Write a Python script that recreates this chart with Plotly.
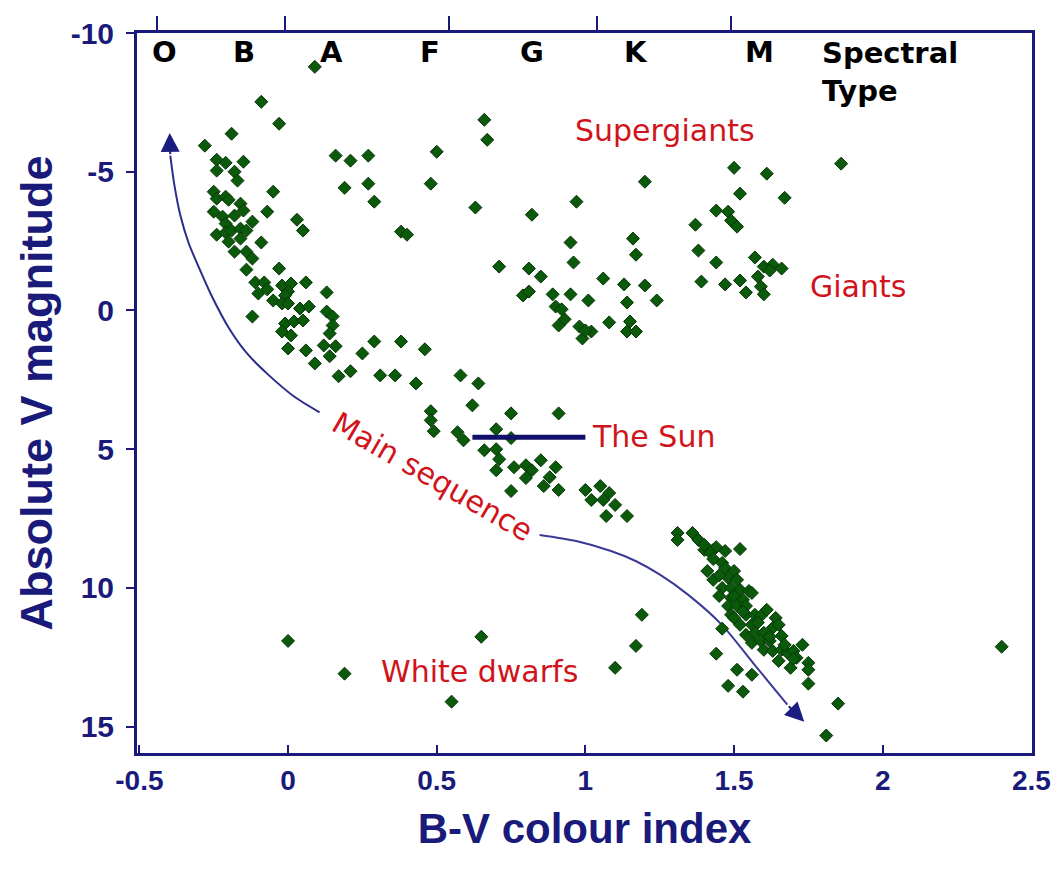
import plotly.graph_objects as go

# ---- star data: B-V colour index and absolute V magnitude ----
supergiants_bv = [0.09, -0.09, -0.03, 0.16, 0.21, 0.27, 0.19, 0.27, 0.29, 0.50, 0.48,
                  0.66, 0.67, 0.63, 0.38, 0.40, 1.86, 1.50, 1.61, 1.52, 1.67]
supergiants_mv = [-8.78, -7.52, -6.73, -5.58, -5.40, -5.58, -4.42, -4.57, -3.92, -5.72, -4.57,
                  -6.87, -6.15, -3.71, -2.84, -2.73, -5.29, -5.14, -4.93, -4.21, -4.06]

upper_ms_bv = [-0.19, -0.28, -0.24, -0.21, -0.15, -0.24, -0.18, -0.17,
               -0.05, -0.07, 0.03, 0.05,
               -0.25, -0.24, -0.21, -0.20, -0.16, -0.15, -0.25, -0.22, -0.18, -0.12, -0.21, -0.24,
               -0.21, -0.19, -0.16, -0.14, -0.20, -0.16, -0.18, -0.09, -0.14, -0.12, -0.14, -0.03,
               -0.11, -0.08, -0.10, -0.07, -0.02, 0.01, 0.06, 0.00, -0.01, -0.05, -0.02, 0.00,
               0.13, 0.04, 0.07, -0.12, -0.01, 0.02, 0.05, 0.13, 0.15, 0.15, -0.02, 0.01, 0.14,
               0.00, 0.06, 0.09, 0.12, 0.16, 0.14, 0.29, 0.38, 0.25, 0.46, 0.21, 0.17, 0.31,
               0.36, 0.43, 0.58, 0.64, 0.62, 0.48, 0.48, 0.49, 0.57, 0.59, 0.75, 0.91, 0.70,
               0.75, 0.66, 0.70, 0.71, 0.70, 0.76, 0.80, 0.82, 0.85, 0.80, 0.90, 0.88, 0.86,
               0.91, 0.75, 1.00, 1.05, 1.08, 1.02, 1.06, 1.10, 1.07, 1.14]
upper_ms_mv = [-6.37, -5.94, -5.43, -5.32, -5.36, -5.04, -5.00, -4.68,
               -4.28, -3.56, -3.27, -2.88,
               -4.28, -4.03, -4.10, -3.99, -3.85, -3.60, -3.56, -3.38, -3.42, -3.20, -3.13, -2.73,
               -2.81, -2.88, -2.95, -2.88, -2.48, -2.59, -2.12, -2.45, -2.12, -1.87, -1.47, -1.51,
               -1.01, -1.01, -0.61, -0.76, -0.90, -0.97, -1.01, -0.68, -0.54, -0.36, -0.25, -0.25,
               -0.65, -0.07, -0.14, 0.22, 0.47, 0.40, 0.36, 0.04, 0.22, 0.54, 0.76, 0.90, 0.83,
               1.37, 1.44, 1.91, 1.26, 1.29, 1.65, 1.12, 1.12, 1.55, 1.40, 2.19, 2.37, 2.34,
               2.34, 2.63, 2.34, 2.63, 3.42, 3.63, 3.96, 4.35, 4.39, 4.68, 3.71, 3.71, 4.28,
               4.60, 5.04, 5.00, 5.36, 5.76, 5.65, 5.58, 5.76, 5.40, 6.04, 5.65, 6.01, 6.33,
               6.47, 6.51, 6.47, 6.33, 6.58, 6.83, 6.83, 7.01, 7.41, 7.41]

giants_bv = [0.71, 0.81, 0.85, 0.79, 0.81, 0.89, 0.95, 0.82, 0.97, 0.95, 0.96, 1.20, 1.16,
             1.17, 1.06, 1.13, 1.20, 1.01, 1.14, 1.24, 0.90, 0.92, 0.93, 0.91, 0.98, 0.99,
             1.02, 1.00, 1.08, 1.15, 1.14, 1.17,
             1.44, 1.48, 1.49, 1.51, 1.37, 1.38, 1.44, 1.57, 1.60, 1.63, 1.66, 1.62, 1.58,
             1.59, 1.60, 1.39, 1.47, 1.52, 1.54]
giants_mv = [-1.58, -1.51, -1.22, -0.54, -0.68, -0.58, -0.58, -3.45, -3.92, -2.45, -1.73, -4.64, -2.59,
             -2.01, -1.15, -0.94, -0.90, -0.36, -0.29, -0.36, -0.14, -0.04, 0.32, 0.54, 0.58, 1.01,
             0.76, 0.72, 0.43, 0.40, 0.76, 0.76,
             -3.60, -3.56, -3.24, -3.02, -3.09, -2.16, -1.73, -1.91, -1.58, -1.65, -1.51, -1.44, -1.22,
             -0.86, -0.58, -1.04, -0.94, -1.08, -0.65]

lower_ms_bv = [1.31, 1.31, 1.36, 1.38, 1.40, 1.43, 1.44, 1.42, 1.47, 1.52, 1.43, 1.46, 1.41,
               1.43, 1.47, 1.50, 1.48, 1.51, 1.46, 1.49, 1.52, 1.55, 1.56, 1.45, 1.49, 1.50,
               1.53, 1.48, 1.51, 1.54, 1.49, 1.50, 1.54, 1.57, 1.59, 1.52, 1.56, 1.61, 1.64,
               1.54, 1.57, 1.60, 1.63, 1.65, 1.56, 1.59, 1.62, 1.60, 1.63, 1.66, 1.68, 1.66,
               1.65, 1.69, 1.70, 1.73, 1.71, 1.75, 1.75, 1.75, 1.46, 1.44, 1.51, 1.56, 1.48,
               1.53, 1.81, 1.85, 1.19, 1.17, 1.10, 2.40,
               1.40, 1.45, 1.53, 1.58, 1.62, 1.67, 1.70]
lower_ms_mv = [8.02, 8.27, 8.02, 8.27, 8.63, 8.63, 8.53, 8.74, 8.67, 8.60, 8.96, 9.10, 9.39,
               9.71, 9.28, 9.39, 9.64, 9.71, 10.00, 10.00, 10.07, 10.11, 10.18, 10.29, 10.36, 10.29,
               10.43, 10.65, 10.65, 10.65, 10.97, 11.08, 10.97, 10.97, 11.01, 11.33, 11.33, 10.79, 11.08,
               11.69, 11.62, 11.62, 11.44, 11.33, 11.98, 11.91, 11.91, 12.23, 12.27, 12.23, 12.34, 11.73,
               12.63, 12.88, 12.27, 12.05, 12.52, 12.70, 12.95, 13.45, 11.47, 12.37, 12.95, 13.13, 13.53,
               13.74, 15.32, 14.17, 10.97, 12.09, 12.88, 12.12,
               8.45, 9.55, 10.85, 11.25, 11.75, 12.05, 12.55]

white_dwarfs_bv = [0.00, 0.19, 0.65, 0.55]
white_dwarfs_mv = [11.91, 13.09, 11.76, 14.10]

# ---- axis ticks and spectral classes ----
x_ticks = [-0.5, 0, 0.5, 1, 1.5, 2, 2.5]
x_tick_text = ["-0.5", "0", "0.5", "1", "1.5", "2", "2.5"]
y_ticks = [-10, -5, 0, 5, 10, 15]
y_tick_text = ["-10", "-5", "0", "5", "10", "15"]
class_edges = [-0.44, -0.01, 0.54, 1.04, 1.49]
class_names = ["O", "B", "A", "F", "G", "K", "M"]
class_centres = [-0.415, -0.148, 0.146, 0.479, 0.819, 1.169, 1.586]

# guide arrows along the main sequence (B-V, Mv)
ms_upper_path_bv = [0.106, 0.019, -0.064, -0.138, -0.198, -0.258, -0.300, -0.335, -0.362, -0.382, -0.396]
ms_upper_path_mv = [3.67, 3.09, 2.34, 1.55, 0.65, -0.55, -1.55, -2.45, -3.42, -4.50, -5.58]
ms_lower_path_bv = [0.846, 0.969, 1.086, 1.169, 1.252, 1.346, 1.459, 1.569, 1.679]
ms_lower_path_mv = [8.09, 8.31, 8.67, 9.03, 9.53, 10.25, 11.33, 12.77, 14.21]

NAVY = "#1a1a7a"
RED = "#d0141c"
GREEN = "#0b5a0b"
FONT = "Liberation Sans, Arial, sans-serif"
LABEL_FONT = "DejaVu Sans, Verdana, sans-serif"

fig = go.Figure()

marker = dict(symbol="diamond", size=10, color=GREEN, line=dict(color="#063606", width=1))

for bv, mv, col in [(ms_upper_path_bv, ms_upper_path_mv, "#2c2c8c"),
                    (ms_lower_path_bv, ms_lower_path_mv, "#3a3a96")]:
    fig.add_trace(go.Scatter(x=bv, y=mv, mode="lines",
                             line=dict(color=col, width=2, shape="spline", smoothing=0.8),
                             hoverinfo="skip", showlegend=False))

for bv, mv in [(supergiants_bv, supergiants_mv), (upper_ms_bv, upper_ms_mv), (giants_bv, giants_mv),
               (lower_ms_bv, lower_ms_mv), (white_dwarfs_bv, white_dwarfs_mv)]:
    fig.add_trace(go.Scatter(x=bv, y=mv, mode="markers", marker=marker, showlegend=False))

# invisible trace so the top (spectral boundary) axis gets drawn
fig.add_trace(go.Scatter(x=[class_edges[0]], y=[0], xaxis="x2", mode="markers",
                         marker=dict(opacity=0), hoverinfo="skip", showlegend=False))

annotations = []
for name, cx in zip(class_names, class_centres):
    annotations.append(dict(x=cx, y=-9.3, xref="x", yref="y", text=name, showarrow=False,
                            font=dict(family=LABEL_FONT, size=29, color="black", weight="bold")))
annotations.append(dict(x=1.79, y=-9.95, xref="x", yref="y", text="Spectral<br>Type", showarrow=False,
                        xanchor="left", yanchor="top", align="left",
                        font=dict(family=LABEL_FONT, size=29, color="black", weight="bold")))

red_labels = [("Supergiants", 1.269, -6.5, 0), ("Giants", 1.916, -0.85, 0), ("The Sun", 1.229, 4.55, 0),
              ("White dwarfs", 0.645, 13.0, 0), ("Main sequence", 0.486, 5.97, 30)]
for text, x, y, ang in red_labels:
    annotations.append(dict(x=x, y=y, xref="x", yref="y", text=text, showarrow=False, textangle=ang,
                            font=dict(family=LABEL_FONT, size=30, color=RED)))

# arrowheads at the ends of the guide curves
annotations.append(dict(x=-0.398, y=-6.40, ax=ms_upper_path_bv[-1], ay=ms_upper_path_mv[-1],
                        xref="x", yref="y", axref="x", ayref="y", text="", showarrow=True,
                        arrowhead=2, arrowsize=1.9, arrowwidth=2, arrowcolor="#1c1c80"))
annotations.append(dict(x=1.736, y=14.82, ax=ms_lower_path_bv[-1], ay=ms_lower_path_mv[-1],
                        xref="x", yref="y", axref="x", ayref="y", text="", showarrow=True,
                        arrowhead=2, arrowsize=1.9, arrowwidth=2, arrowcolor="#1c1c80"))

fig.update_layout(
    width=1063, height=877,
    margin=dict(l=137, r=23, t=33, b=124),
    paper_bgcolor="white", plot_bgcolor="white",
    annotations=annotations,
    shapes=[dict(type="line", xref="x", yref="y", x0=0.62, x1=1.0, y0=4.57, y1=4.57,
                 line=dict(color="#10106a", width=5))],
    xaxis=dict(range=[-0.508, 2.502], showline=True, linecolor=NAVY, linewidth=3, mirror=True,
               ticks="inside", ticklen=8, tickwidth=2, tickcolor=NAVY,
               tickvals=x_ticks, ticktext=x_tick_text, ticklabelstandoff=0,
               tickfont=dict(family=FONT, size=28, color=NAVY, weight="bold"),
               showgrid=False, zeroline=False,
               title=dict(text="B-V colour index", standoff=20,
                          font=dict(family=FONT, size=42, color=NAVY, weight="bold"))),
    xaxis2=dict(range=[-0.508, 2.502], overlaying="x", side="top", anchor="y",
                showline=False, ticks="outside", ticklen=16, tickwidth=2, tickcolor=NAVY,
                tickvals=class_edges, showticklabels=False, showgrid=False, zeroline=False),
    yaxis=dict(range=[15.95, -10], showline=True, linecolor=NAVY, linewidth=3, mirror=True,
               ticks="outside", ticklen=8, tickwidth=2, tickcolor=NAVY,
               tickvals=y_ticks, ticktext=y_tick_text, ticklabelstandoff=6,
               tickfont=dict(family=FONT, size=30, color=NAVY, weight="bold"),
               showgrid=False, zeroline=False,
               title=dict(text="Absolute V magnitude", standoff=4,
                          font=dict(family=FONT, size=45, color=NAVY, weight="bold"))),
)

fig.write_html("out.html")
